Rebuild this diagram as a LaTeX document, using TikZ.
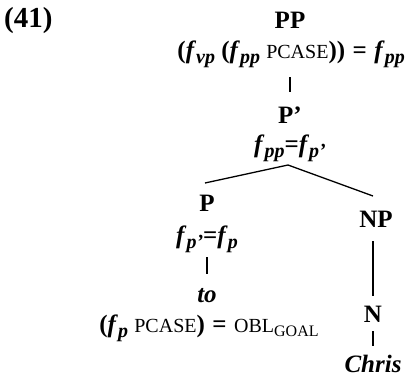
\documentclass[tikz,border=0pt]{standalone}
\usepackage{fontspec}
\setmainfont{Liberation Serif}
\newcommand{\sbx}[1]{\raisebox{-0.22em}{\fontsize{20}{20}\selectfont #1}}
\newcommand{\fsub}[1]{\textit{f}\sbx{\textit{#1}}}
\newcommand{\scp}[1]{{\mdseries\fontsize{20}{20}\selectfont #1}}
\newcommand{\eqs}{\hspace{0.3em}=\hspace{0.3em}}
\begin{document}
\begin{tikzpicture}[x=1pt,y=-1pt,
  lab/.style={inner sep=0pt,anchor=base,font=\fontsize{25}{28}\selectfont\bfseries},
  edge/.style={line width=1.3pt}]
\useasboundingbox (0,0) rectangle (408,378);
\node[lab,anchor=base west,font=\fontsize{29}{30}\selectfont\bfseries] (num) at (4,27) {(41)};
\node[lab] (pp) at (290,28) {PP};
\node[lab,anchor=base east] (ppf) at (405,58) {(\fsub{vp} (\fsub{pp} \scp{PCASE}))\eqs\fsub{pp}};
\node[lab] (pbar) at (290,123) {P'};
\node[lab] (pbarf) at (290,152) {\fsub{pp}=\fsub{p'}};
\coordinate (apex) at (288,165);
\coordinate (lend) at (205,183);
\coordinate (rend) at (373,196);
\node[lab] (p) at (207,211) {P};
\node[lab] (pf) at (207,243) {\fsub{p'}=\fsub{p}};
\node[lab] (to) at (207,302) {\textit{to}};
\node[lab] (tof) at (209,332) {(\fsub{p} \scp{PCASE})\eqs\scp{OBL\raisebox{-0.2em}{\fontsize{16}{16}\selectfont GOAL}}};
\node[lab] (np) at (376,227) {NP};
\node[lab] (n) at (373,322) {N};
\node[lab] (chris) at (373,372) {\textit{Chris}};
\coordinate (b1t) at (290,77);
\coordinate (b1b) at (290,92);
\coordinate (b2t) at (207,257);
\coordinate (b2b) at (207,274);
\coordinate (b3t) at (373,241);
\coordinate (b3b) at (373,296);
\coordinate (b4t) at (373,331);
\coordinate (b4b) at (373,346);
\draw[edge] (b1t) -- (b1b);
\draw[edge] (lend) -- (apex) -- (rend);
\draw[edge] (b2t) -- (b2b);
\draw[edge] (b3t) -- (b3b);
\draw[edge] (b4t) -- (b4b);
\end{tikzpicture}
\end{document}
